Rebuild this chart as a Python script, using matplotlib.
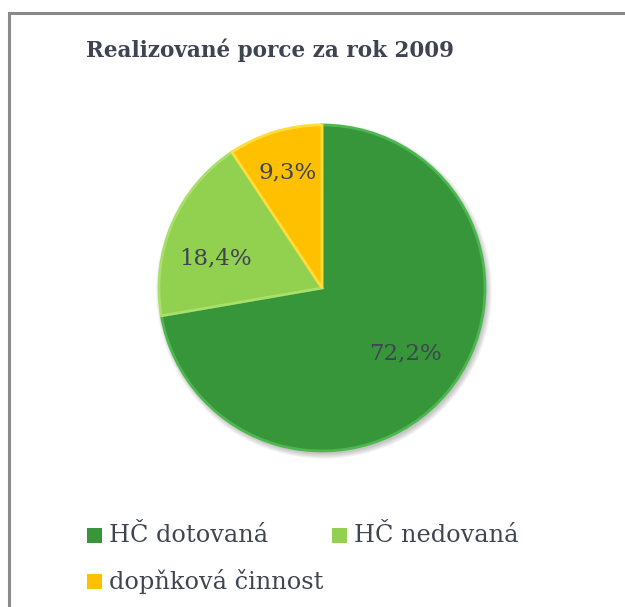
import matplotlib
matplotlib.use("Agg")
import matplotlib.pyplot as plt
import numpy as np
from matplotlib.patches import Rectangle, Circle

title = "Realizované porce za rok 2009"
categories = ["HČ dotovaná", "HČ nedovaná", "dopňková činnost"]
values = [72.2, 18.4, 9.3]
labels = ["72,2%", "18,4%", "9,3%"]

colors = ["#38963a", "#92d050", "#ffc000"]
rims = ["#4db84f", "#a8e06a", "#ffdc3a"]
label_r = [0.65, 0.68, 0.74]
label_dang = [2, 8, 0]
text_color = "#3f4452"

W, H = 625, 607
fig = plt.figure(figsize=(W / 100, H / 100), dpi=100)
fig.patch.set_facecolor("white")

# chart frame
fig.patches.append(Rectangle((9 / W, -0.1), 1.2, (H - 13) / H + 0.1,
                             transform=fig.transFigure, fill=False,
                             edgecolor="#8a8a8a", linewidth=2.2))

cx, cy, r = 322, 288, 163
ax = fig.add_axes([(cx - r) / W, (H - cy - r) / H, 2 * r / W, 2 * r / H])
# soft shadow
for k in range(6):
    ax.add_patch(Circle((0.012, -0.018), 1.0 + 0.006 * k, facecolor="#000000",
                        alpha=0.04, edgecolor="none", zorder=0, clip_on=False))
wedges, _ = ax.pie(values, colors=colors, startangle=90, counterclock=False,
                   wedgeprops=dict(linewidth=2.0))
for w, rc in zip(wedges, rims):
    w.set_edgecolor(rc)
    w.set_zorder(2)
    w.set_clip_on(False)

for w, lab, rr, da in zip(wedges, labels, label_r, label_dang):
    ang = np.deg2rad((w.theta1 + w.theta2) / 2 + da)
    ax.text(rr * np.cos(ang), rr * np.sin(ang), lab, ha="center", va="center",
            fontsize=16.5, family="DejaVu Serif", color=text_color, zorder=3)
ax.set_xlim(-1, 1)
ax.set_ylim(-1, 1)
ax.set_aspect("equal")
ax.axis("off")

fig.text(270 / W, 1 - 50 / H, title, ha="center", va="center",
         fontsize=15.5, fontweight="bold", family="DejaVu Serif",
         color=text_color)

# legend
leg_pos = [(87, 535), (332, 535), (87, 581)]
for (lx, ly), cat, col in zip(leg_pos, categories, colors):
    fig.patches.append(Rectangle((lx / W, 1 - (ly + 8) / H), 15 / W, 15 / H,
                                 transform=fig.transFigure, facecolor=col,
                                 edgecolor="none"))
    fig.text((lx + 22) / W, 1 - ly / H, cat, ha="left", va="center",
             fontsize=17.3, family="DejaVu Serif", color=text_color)

fig.savefig("out.png", dpi=100, facecolor="white")
